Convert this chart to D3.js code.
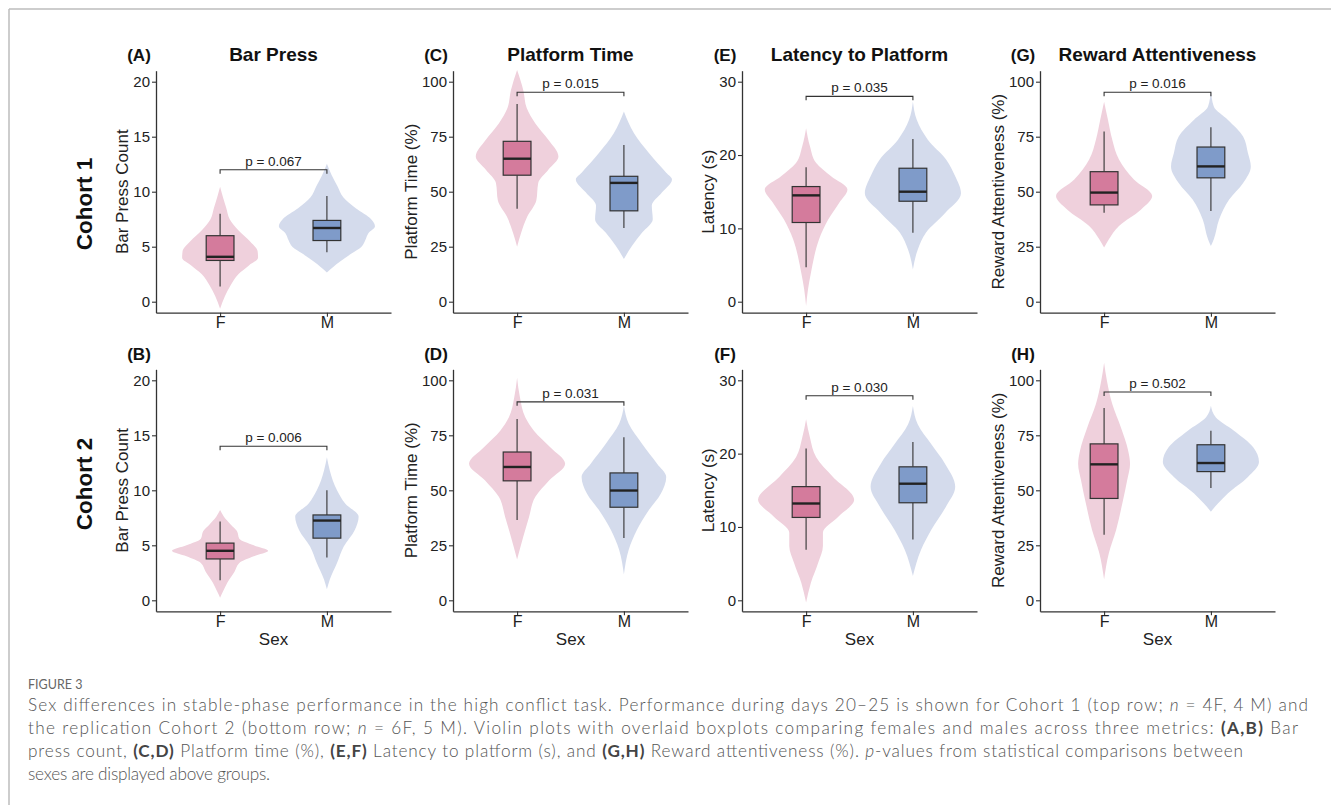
<!DOCTYPE html>
<html>
<head>
<meta charset="utf-8">
<script src="https://cdn.jsdelivr.net/npm/d3@7"></script>
<style>
body { margin: 0; background: #fff; }
svg { display: block; font-family: "Liberation Sans", Arial, sans-serif; }
</style>
</head>
<body>
<svg width="1331" height="805"></svg>
<script>
var sexes = ["F", "M"];
var cohorts = ["Cohort 1", "Cohort 2"];
var metrics = ["Bar Press", "Platform Time", "Latency to Platform", "Reward Attentiveness"];
var yTitles = ["Bar Press Count", "Platform Time (%)", "Latency (s)", "Reward Attentiveness (%)"];
var yTicks = [[0, 5, 10, 15, 20], [0, 25, 50, 75, 100], [0, 10, 20, 30], [0, 25, 50, 75, 100]];
var tags = [["A", "B"], ["C", "D"], ["E", "F"], ["G", "H"]];
var pValues = [["0.067", "0.006"], ["0.015", "0.031"], ["0.035", "0.030"], ["0.016", "0.502"]];
var bracketAt = [[12.0, 14.0], [95.2, 90.2], [28.0, 27.9], [95.2, 94.7]];

// box stats: [lower whisker, q1, median, q3, upper whisker], [F, M]
var boxA = [[1.38, 3.75, 4.08, 6.0, 8.0], [4.5, 5.56, 6.7, 7.39, 9.6]];
var boxB = [[1.83, 3.76, 4.5, 5.2, 7.16], [3.9, 5.65, 7.25, 7.76, 10.0]];
var boxC = [[42.2, 57.5, 65.0, 72.9, 89.9], [33.5, 41.3, 54.0, 57.0, 71.2]];
var boxD = [[36.5, 54.3, 60.6, 67.4, 82.4], [28.3, 42.3, 49.9, 57.9, 74.1]];
var boxE = [[4.7, 10.8, 14.5, 15.7, 18.35], [9.4, 13.7, 15.0, 18.2, 22.2]];
var boxF = [[6.9, 11.3, 13.2, 15.5, 20.7], [8.3, 13.3, 15.9, 18.2, 21.6]];
var boxG = [[40.4, 44.0, 49.6, 59.1, 77.4], [41.2, 56.3, 61.5, 70.3, 79.3]];
var boxH = [[29.8, 46.3, 61.8, 71.1, 87.4], [51.1, 58.5, 62.4, 70.7, 77.1]];

// violin outlines: [value, relative density], read top to bottom, [F, M]
var violinA = [
  [[10.45, 0], [9.5, 0.06], [8.5, 0.13], [7.5, 0.2], [6.5, 0.38], [5.5, 0.62], [4.6, 0.78], [4.0, 0.79], [3.3, 0.6], [2.5, 0.38], [1.5, 0.22], [0.5, 0.1], [-0.65, 0]],
  [[12.55, 0], [11.5, 0.1], [10.5, 0.22], [9.5, 0.34], [8.5, 0.6], [7.5, 0.92], [6.85, 1.0], [6.2, 0.86], [5.6, 0.8], [5.0, 0.72], [4.4, 0.52], [3.6, 0.26], [2.65, 0]]
];
var violinB = [
  [[8.2, 0], [7.6, 0.08], [6.9, 0.22], [6.3, 0.35], [5.6, 0.4], [5.0, 0.7], [4.5, 1.0], [4.0, 0.7], [3.4, 0.4], [2.6, 0.3], [1.6, 0.15], [0.8, 0.06], [0.24, 0]],
  [[13.0, 0], [11.8, 0.06], [10.0, 0.21], [8.8, 0.38], [7.6, 0.66], [6.4, 0.58], [4.9, 0.35], [3.4, 0.21], [1.9, 0.06], [1.0, 0]]
];
var violinC = [
  [[105.3, 0], [96, 0.13], [88, 0.2], [81, 0.38], [73.6, 0.65], [66, 0.86], [60, 0.65], [54, 0.44], [46, 0.4], [38.6, 0.21], [31, 0.08], [25, 0]],
  [[86.4, 0], [76.6, 0.21], [67.6, 0.52], [58.6, 0.88], [55.6, 1.0], [49.6, 0.79], [43.6, 0.58], [37.5, 0.6], [31.4, 0.38], [25.4, 0.17], [19.4, 0]]
];
var violinD = [
  [[101.2, 0], [92.2, 0.06], [83.2, 0.17], [77.1, 0.35], [69.6, 0.69], [62.1, 1.0], [54.6, 0.67], [47.1, 0.38], [38, 0.25], [29, 0.13], [18.5, 0]],
  [[88.4, 0], [80.2, 0.1], [71.1, 0.38], [62.1, 0.69], [56.1, 0.88], [48.6, 0.77], [41.1, 0.52], [32, 0.27], [23, 0.1], [11.7, 0]]
];
var violinE = [
  [[23.65, 0], [21.2, 0.08], [18.9, 0.21], [17.1, 0.52], [15.3, 0.86], [13.5, 0.69], [11.2, 0.46], [8.5, 0.27], [6.2, 0.17], [3.9, 0.1], [1.7, 0.04], [-0.6, 0]],
  [[27.3, 0], [24.8, 0.08], [22.1, 0.31], [19.4, 0.69], [17.1, 0.88], [14.8, 1.0], [12.1, 0.67], [9.4, 0.27], [7.1, 0.1], [4.4, 0]]
];
var violinF = [
  [[24.7, 0], [22.2, 0.08], [19.5, 0.21], [16.8, 0.56], [13.7, 1.0], [11.4, 0.67], [9.2, 0.35], [7.4, 0.35], [5.1, 0.25], [2.4, 0.1], [-0.3, 0]],
  [[26.5, 0], [24, 0.1], [21.3, 0.38], [18.6, 0.67], [15.5, 0.88], [12.8, 0.69], [9.6, 0.38], [6.9, 0.17], [3.3, 0]]
];
var violinG = [
  [[90.9, 0], [82.7, 0.08], [73.6, 0.17], [64.6, 0.31], [55.5, 0.62], [48, 1.0], [41.9, 0.77], [34.4, 0.31], [28.4, 0.1], [24.6, 0]],
  [[96.2, 0], [88.7, 0.06], [82.7, 0.35], [75.1, 0.67], [67.6, 0.77], [61.5, 0.83], [54, 0.67], [46.5, 0.38], [37.4, 0.17], [28.4, 0.06], [25.3, 0]]
];
var violinH = [
  [[108, 0], [99.7, 0.06], [89.2, 0.17], [78.6, 0.35], [68.1, 0.5], [62.1, 0.54], [54.6, 0.48], [44.1, 0.38], [32, 0.25], [21.5, 0.1], [9.5, 0]],
  [[88.4, 0], [83.2, 0.1], [77.1, 0.48], [69.6, 0.88], [62.9, 1.0], [56.1, 0.77], [48.6, 0.35], [44.1, 0.15], [40.3, 0]]
];

var boxes = [[boxA, boxB], [boxC, boxD], [boxE, boxF], [boxG, boxH]];
var violins = [[violinA, violinB], [violinC, violinD], [violinE, violinF], [violinG, violinH]];

var captionLines = [
  [["Sex differences in stable-phase performance in the high conflict task. Performance during days 20\u201325 is shown for Cohort 1 (top row; ", ""], ["n", "i"], [" = 4F, 4 M) and", ""]],
  [["the replication Cohort 2 (bottom row; ", ""], ["n", "i"], [" = 6F, 5 M). Violin plots with overlaid boxplots comparing females and males across three metrics: ", ""], ["(A,B)", "b"], [" Bar", ""]],
  [["press count, ", ""], ["(C,D)", "b"], [" Platform time (%), ", ""], ["(E,F)", "b"], [" Latency to platform (s), and ", ""], ["(G,H)", "b"], [" Reward attentiveness (%). ", ""], ["p", "i"], ["-values from statistical comparisons between", ""]],
  [["sexes are displayed above groups.", ""]]
];

var violinFill = { F: "#efd0dc", M: "#d4dbec" },
    boxFill = { F: "#d47b9c", M: "#7f9bc9" };

var svg = d3.select("svg"),
    colLeft = [156, 453, 742, 1040],
    rowTop = [70.7, 369.3],
    pw = 235,
    ph = 242;

// frame
svg.append("line").attr("x1", 9).attr("x2", 1331).attr("y1", 9).attr("y2", 9)
    .attr("stroke", "#bdbdbd").attr("stroke-width", 1.5);
svg.append("line").attr("x1", 9).attr("x2", 9).attr("y1", 9).attr("y2", 805)
    .attr("stroke", "#bdbdbd").attr("stroke-width", 1.5);

// cohort row labels
var cohortY = [204, 484];
cohorts.forEach(function (c, i) {
    svg.append("text")
        .attr("transform", "translate(92," + cohortY[i] + ") rotate(-90)")
        .attr("text-anchor", "middle")
        .attr("font-size", 22.5)
        .attr("font-weight", "bold")
        .attr("fill", "#111")
        .text(c);
});

metrics.forEach(function (m, mi) {
    cohorts.forEach(function (c, ci) {
        drawPanel(mi, ci);
    });
});

function drawPanel(mi, ci) {
    var g = svg.append("g")
        .attr("transform", "translate(" + colLeft[mi] + "," + rowTop[ci] + ")");

    var top = d3.max(yTicks[mi]);
    var y = d3.scaleLinear().domain([-0.05 * top, 1.05 * top]).range([ph, 0]);
    var x = d3.scalePoint().domain(sexes).range([0, pw]).padding(0.6);
    var halfMax = 0.45 * x.step(),
        bw = 0.26 * x.step();

    var area = d3.area()
        .curve(d3.curveMonotoneY)
        .y(function (d) { return y(d[0]); })
        .x0(function (d) { return -d[1] * halfMax; })
        .x1(function (d) { return d[1] * halfMax; });

    var groups = g.selectAll(".grp")
        .data(sexes)
        .enter().append("g")
        .attr("class", "grp")
        .attr("transform", function (s) { return "translate(" + x(s) + ",0)"; });

    groups.append("path")
        .attr("d", function (s, i) { return area(violins[mi][ci][i]); })
        .attr("fill", function (s) { return violinFill[s]; });

    groups.each(function (s, i) {
        var b = boxes[mi][ci][i],
            gg = d3.select(this);
        gg.append("line").attr("x1", 0).attr("x2", 0)
            .attr("y1", y(b[4])).attr("y2", y(b[3]))
            .attr("stroke", "#333").attr("stroke-width", 1.1);
        gg.append("line").attr("x1", 0).attr("x2", 0)
            .attr("y1", y(b[1])).attr("y2", y(b[0]))
            .attr("stroke", "#333").attr("stroke-width", 1.1);
        gg.append("rect")
            .attr("x", -bw / 2).attr("width", bw)
            .attr("y", y(b[3])).attr("height", y(b[1]) - y(b[3]))
            .attr("fill", boxFill[s])
            .attr("stroke", "#333").attr("stroke-width", 1.2);
        gg.append("line").attr("x1", -bw / 2).attr("x2", bw / 2)
            .attr("y1", y(b[2])).attr("y2", y(b[2]))
            .attr("stroke", "#222").attr("stroke-width", 2.4);
    });

    // significance bracket
    var by = y(bracketAt[mi][ci]);
    g.append("path")
        .attr("d", "M" + x("F") + "," + (by + 4) + "V" + by + "H" + x("M") + "V" + (by + 4))
        .attr("fill", "none").attr("stroke", "#333").attr("stroke-width", 1.1);
    g.append("text")
        .attr("x", (x("F") + x("M")) / 2).attr("y", by - 4)
        .attr("text-anchor", "middle")
        .attr("font-size", 13.5).attr("fill", "#222")
        .text("p = " + pValues[mi][ci]);

    // axes
    var gy = g.append("g")
        .call(d3.axisLeft(y).tickValues(yTicks[mi]).tickSize(4).tickPadding(2).tickSizeOuter(0));
    var gx = g.append("g")
        .attr("transform", "translate(0," + ph + ")")
        .call(d3.axisBottom(x).tickSize(4).tickSizeOuter(0));
    [gy, gx].forEach(function (ax) {
        ax.attr("font-family", null).attr("font-size", 15);
        ax.select(".domain").attr("stroke", "#333").attr("stroke-width", 1.3);
        ax.selectAll(".tick line").attr("stroke", "#333").attr("stroke-width", 1.1);
        ax.selectAll(".tick text").attr("fill", "#222");
    });
    gx.attr("font-size", 16);
    gx.selectAll(".tick text").attr("y", 15.5).attr("dy", 0);

    var bb = gy.node().getBBox();
    g.append("text")
        .attr("transform", "translate(" + (bb.x - 5) + "," + (ph / 2) + ") rotate(-90)")
        .attr("text-anchor", "middle")
        .attr("font-size", 17).attr("fill", "#222")
        .text(yTitles[mi]);

    // panel tag and title
    g.append("text")
        .attr("x", -17).attr("y", -9.5)
        .attr("text-anchor", "middle")
        .attr("font-size", 17).attr("font-weight", "bold").attr("fill", "#111")
        .text("(" + tags[mi][ci] + ")");
    if (ci === 0) {
        g.append("text")
            .attr("x", pw / 2).attr("y", -9.5)
            .attr("text-anchor", "middle")
            .attr("font-size", 19).attr("font-weight", "bold").attr("fill", "#111")
            .text(metrics[mi]);
    } else {
        g.append("text")
            .attr("x", pw / 2).attr("y", ph + 34)
            .attr("text-anchor", "middle")
            .attr("font-size", 17).attr("fill", "#222")
            .text("Sex");
    }
}

// caption
svg.append("text")
    .attr("x", 28).attr("y", 689)
    .attr("font-family", "Lato, 'Open Sans', sans-serif")
    .attr("font-size", 12.5).attr("fill", "#666")
    .text("FIGURE 3");

var lineEnds = [1308, 1298, 1243, 270],
    lineBase = [710.5, 733.5, 756.5, 779.5];
captionLines.forEach(function (segs, i) {
    var t = svg.append("text")
        .attr("x", 28).attr("y", lineBase[i])
        .attr("font-family", "Lato, 'Open Sans', sans-serif")
        .attr("font-size", 17.2).attr("font-weight", 300).attr("fill", "#555")
        .attr("textLength", lineEnds[i] - 28).attr("lengthAdjust", "spacing");
    segs.forEach(function (s) {
        t.append("tspan")
            .attr("font-weight", s[1] === "b" ? "bold" : null)
            .attr("font-style", s[1] === "i" ? "italic" : null)
            .attr("fill", s[1] === "b" ? "#444" : null)
            .text(s[0]);
    });
});
</script>
</body>
</html>
